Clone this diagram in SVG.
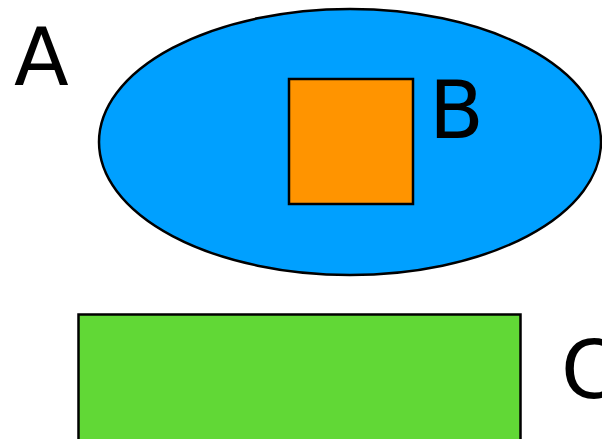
<svg xmlns="http://www.w3.org/2000/svg" width="602" height="439" viewBox="0 0 602 439">
<style>
.s{stroke:#000;stroke-width:2.5}
.t{font-family:"DejaVu Sans",sans-serif;font-size:80px;fill:#000}
</style>
<rect width="602" height="439" fill="#fff"/>
<g id="A">
<ellipse class="s" cx="350" cy="142" rx="251" ry="133" fill="#00a0ff"/>
<text class="t" x="14" y="85">A</text>
</g>
<g id="B">
<rect class="s" x="289" y="79" width="124" height="125" fill="#ff9400"/>
<text class="t" x="429" y="138">B</text>
</g>
<g id="C">
<rect class="s" x="78.5" y="314.5" width="442" height="140" fill="#61d836"/>
<text class="t" x="561" y="398">C</text>
</g>
<g id="connectors"></g>
</svg>
